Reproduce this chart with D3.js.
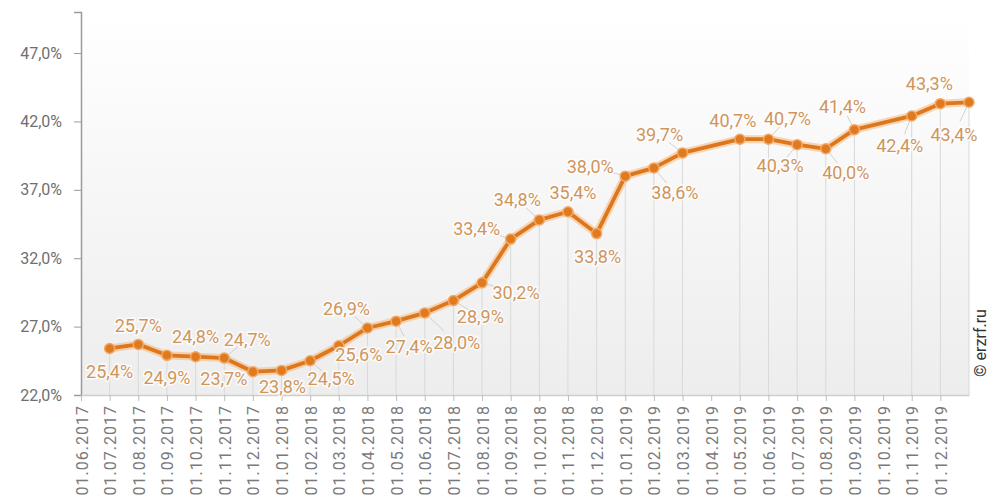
<!DOCTYPE html>
<html>
<head>
<meta charset="utf-8">
<script src="https://cdn.jsdelivr.net/npm/d3@7"></script>
<style>
  html, body { margin: 0; padding: 0; background: #fff; }
  svg { display: block; font-family: Roboto, "Noto Sans", sans-serif; }
</style>
</head>
<body>
<svg id="chart" width="992" height="501"></svg>
<script>
// x axis tick labels (one per month)
const tickLabels = [
  "01.06.2017", "01.07.2017", "01.08.2017", "01.09.2017", "01.10.2017", "01.11.2017", "01.12.2017",
  "01.01.2018", "01.02.2018", "01.03.2018", "01.04.2018", "01.05.2018", "01.06.2018", "01.07.2018",
  "01.08.2018", "01.09.2018", "01.10.2018", "01.11.2018", "01.12.2018",
  "01.01.2019", "01.02.2019", "01.03.2019", "01.04.2019", "01.05.2019", "01.06.2019", "01.07.2019",
  "01.08.2019", "01.09.2019", "01.10.2019", "01.11.2019", "01.12.2019"
];

// dates of the points (some months are missing)
const dates = [
  "01.07.2017", "01.08.2017", "01.09.2017", "01.10.2017", "01.11.2017", "01.12.2017",
  "01.01.2018", "01.02.2018", "01.03.2018", "01.04.2018", "01.05.2018", "01.06.2018", "01.07.2018",
  "01.08.2018", "01.09.2018", "01.10.2018", "01.11.2018", "01.12.2018",
  "01.01.2019", "01.02.2019", "01.03.2019", "01.05.2019", "01.06.2019", "01.07.2019",
  "01.08.2019", "01.09.2019", "01.11.2019", "01.12.2019", "01.01.2020"
];

// share, %
const values = [
  25.4, 25.7, 24.9, 24.8, 24.7, 23.7,
  23.8, 24.5, 25.6, 26.9, 27.4, 28.0, 28.9,
  30.2, 33.4, 34.8, 35.4, 33.8,
  38.0, 38.6, 39.7, 40.7, 40.7, 40.3,
  40.0, 41.4, 42.4, 43.3, 43.4
];

const yTicks = [22, 27, 32, 37, 42, 47];

// where each value label sits relative to its point (layout only)
const labelOffsets = [
  [0, 23], [0, -19], [0, 22], [0, -20], [23, -19], [-29, 7],
  [1, 16], [21, 18], [20, 9], [-21, -19], [13, 25], [32, 30], [27, 16],
  [34, 10], [-34, -11], [-22, -20], [5, -19], [1, 23],
  [-35, -10], [21, 25], [-23, -18], [-7, -19], [19, -21], [-17, 21],
  [20, 24], [-12, -23], [-12, 30], [-11, -20], [-15, 32]
];

const fmt = v => v.toFixed(1).replace(".", ",") + "%";

const svg = d3.select("#chart");

const plotLeft = 81, plotRight = 969, plotTop = 12, plotBottom = 395;

const x = d3.scalePoint()
  .domain(Array.from(new Set(tickLabels.concat(dates))))
  .range([plotLeft, plotRight]);

const y = d3.scaleLinear()
  .domain([22, 50])
  .range([plotBottom, plotTop]);

// background gradient of the plot area
const defs = svg.append("defs");
const grad = defs.append("linearGradient")
  .attr("id", "bg")
  .attr("x1", 0).attr("y1", 0).attr("x2", 0).attr("y2", 1);
grad.append("stop").attr("offset", "0%").attr("stop-color", "#ffffff");
grad.append("stop").attr("offset", "100%").attr("stop-color", "#ededed");

svg.append("rect")
  .attr("x", plotLeft)
  .attr("y", plotTop)
  .attr("width", plotRight - plotLeft)
  .attr("height", plotBottom - plotTop)
  .attr("fill", "url(#bg)");

const pts = dates.map((d, i) => ({ date: d, value: values[i], off: labelOffsets[i] }));

// drop lines from each point to the axis
svg.append("g")
  .selectAll("line")
  .data(pts)
  .enter()
  .append("line")
  .attr("x1", d => x(d.date))
  .attr("x2", d => x(d.date))
  .attr("y1", d => y(d.value))
  .attr("y2", plotBottom)
  .attr("stroke", "#d9d9d9")
  .attr("stroke-width", 1);

// y axis
const yAxis = svg.append("g")
  .attr("transform", `translate(${plotLeft},0)`)
  .call(d3.axisLeft(y).tickValues(yTicks).tickSize(7).tickPadding(12).tickFormat(fmt));
yAxis.select(".domain").attr("stroke", "#9a9a9a").attr("stroke-width", 1.5);
yAxis.selectAll(".tick line").attr("stroke", "#9a9a9a");
yAxis.selectAll(".tick text")
  .attr("fill", "#6f6f6f")
  .attr("font-size", 16)
  .attr("font-family", "Roboto, sans-serif");

// x axis
const xAxis = svg.append("g")
  .attr("transform", `translate(0,${plotBottom})`)
  .call(d3.axisBottom(x).tickValues(tickLabels).tickSize(6).tickSizeOuter(0));
xAxis.select(".domain").attr("stroke", "#cfcfcf").attr("stroke-width", 1.5);
xAxis.selectAll(".tick line").attr("stroke", "#bdbdbd");
xAxis.selectAll(".tick text")
  .attr("fill", "#7a7a7a")
  .attr("font-size", 16)
  .attr("font-family", "Roboto, sans-serif")
  .attr("letter-spacing", "1px")
  .attr("text-anchor", "end")
  .attr("dy", null)
  .attr("y", null)
  .attr("transform", "translate(6,10) rotate(-90)");

// line with a soft halo
const line = d3.line()
  .x(d => x(d.date))
  .y(d => y(d.value));

svg.append("path")
  .datum(pts)
  .attr("d", line)
  .attr("fill", "none")
  .attr("stroke", "#f6b67a")
  .attr("stroke-opacity", 0.55)
  .attr("stroke-width", 8)
  .attr("stroke-linejoin", "round");

svg.append("path")
  .datum(pts)
  .attr("d", line)
  .attr("fill", "none")
  .attr("stroke", "#dd771b")
  .attr("stroke-width", 3.8)
  .attr("stroke-linejoin", "round");

// leader lines
svg.append("g")
  .selectAll("line")
  .data(pts.filter(d => Math.hypot(d.off[0], d.off[1]) > 24))
  .enter()
  .append("line")
  .attr("x1", d => x(d.date))
  .attr("y1", d => y(d.value))
  .attr("x2", d => x(d.date) + d.off[0] * 0.6)
  .attr("y2", d => y(d.value) + d.off[1] * 0.6)
  .attr("stroke", "#d8cfc6")
  .attr("stroke-width", 1);

// points
svg.append("g")
  .selectAll("circle")
  .data(pts)
  .enter()
  .append("circle")
  .attr("cx", d => x(d.date))
  .attr("cy", d => y(d.value))
  .attr("r", 5)
  .attr("fill", "#e07a1e")
  .attr("stroke", "#f3a868")
  .attr("stroke-width", 1.5);

// value labels
svg.append("g")
  .selectAll("text")
  .data(pts)
  .enter()
  .append("text")
  .attr("x", d => x(d.date) + d.off[0])
  .attr("y", d => y(d.value) + d.off[1])
  .attr("text-anchor", "middle")
  .attr("dominant-baseline", "central")
  .attr("font-size", 18)
  .attr("fill", "#d0955c")
  .attr("stroke", "#ffffff")
  .attr("stroke-width", 3)
  .attr("stroke-opacity", 0.8)
  .attr("paint-order", "stroke")
  .text(d => fmt(d.value));

// source note
svg.append("text")
  .attr("transform", "translate(986,377) rotate(-90)")
  .attr("font-size", 16)
  .attr("fill", "#333")
  .text("© erzrf.ru");
</script>
</body>
</html>
